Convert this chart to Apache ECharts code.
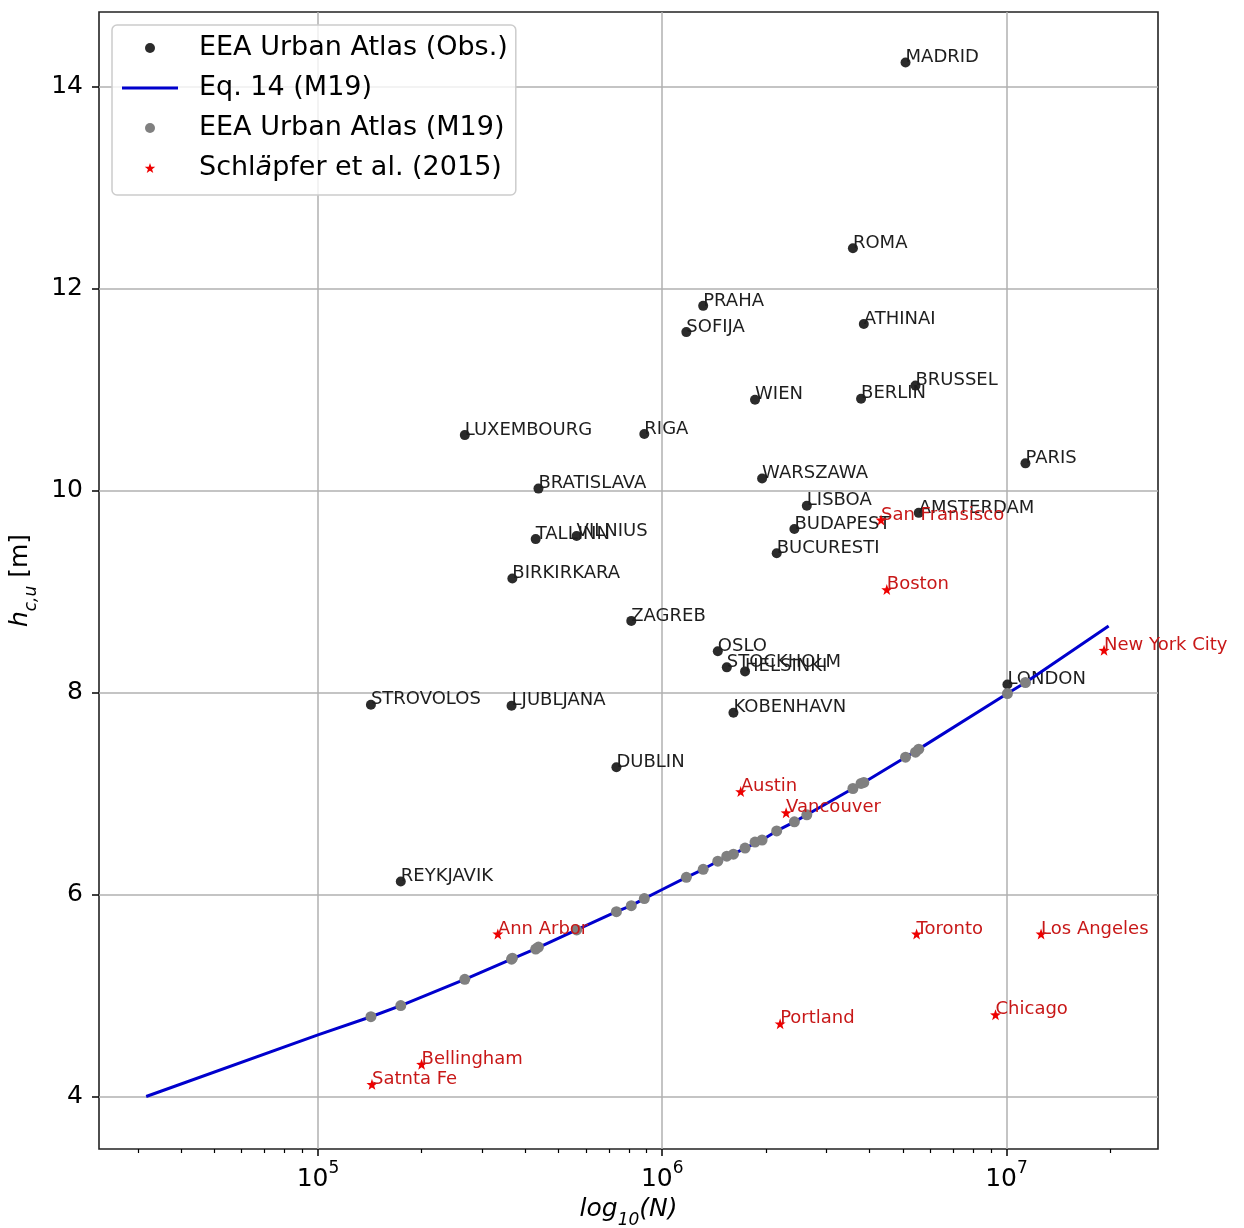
<!DOCTYPE html>
<html>
<head>
<meta charset="utf-8">
<script src="https://cdn.jsdelivr.net/npm/echarts@6/dist/echarts.min.js"></script>
<style>
  html, body { margin: 0; padding: 0; background: #fff; }
  #chart { width: 1244px; height: 1228px; }
</style>
</head>
<body>
<div id="chart"></div>
<script>
// EEA Urban Atlas cities: population N, observed h_c,u and M19 estimate
const cityNames = ['MADRID', 'ROMA', 'PRAHA', 'SOFIJA', 'ATHINAI', 'BRUSSEL', 'WIEN', 'BERLIN',
  'LUXEMBOURG', 'RIGA', 'PARIS', 'WARSZAWA', 'BRATISLAVA', 'LISBOA', 'AMSTERDAM', 'BUDAPEST',
  'TALLINN', 'VILNIUS', 'BUCURESTI', 'BIRKIRKARA', 'ZAGREB', 'OSLO', 'STOCKHOLM', 'HELSINKI',
  'LONDON', 'STROVOLOS', 'LJUBLJANA', 'KOBENHAVN', 'DUBLIN', 'REYKJAVIK']
const cityPop = [5.09e6, 3.58e6, 1.315e6, 1.175e6, 3.85e6, 5.44e6, 1.86e6, 3.78e6,
  2.67e5, 8.87e5, 1.135e7, 1.95e6, 4.37e5, 2.63e6, 5.56e6, 2.42e6,
  4.29e5, 5.64e5, 2.15e6, 3.67e5, 8.13e5, 1.45e6, 1.54e6, 1.74e6,
  1.006e7, 1.425e5, 3.65e5, 1.61e6, 7.36e5, 1.74e5]
const cityObs = [14.24, 12.40, 11.83, 11.57, 11.65, 11.04, 10.90, 10.91,
  10.55, 10.56, 10.27, 10.12, 10.02, 9.85, 9.78, 9.62,
  9.52, 9.55, 9.38, 9.13, 8.71, 8.41, 8.25, 8.21,
  8.08, 7.88, 7.87, 7.80, 7.26, 6.13]
const cityM19 = [7.36, 7.05, 6.25, 6.17, 7.11, 7.41, 6.52, 7.10,
  5.16, 5.96, 8.10, 6.54, 5.48, 6.79, 7.44, 6.72,
  5.46, 5.65, 6.63, 5.37, 5.89, 6.33, 6.38, 6.46,
  7.99, 4.79, 5.36, 6.40, 5.83, 4.90]

// Schläpfer et al. (2015)
const usNames = ['San Fransisco', 'Boston', 'New York City', 'Austin', 'Vancouver', 'Ann Arbor',
  'Toronto', 'Los Angeles', 'Portland', 'Chicago', 'Bellingham', 'Satnta Fe']
const usPop = [4.32e6, 4.49e6, 1.92e7, 1.69e6, 2.29e6, 3.33e5,
  5.48e6, 1.26e7, 2.20e6, 9.29e6, 2.0e5, 1.435e5]
const usH = [9.71, 9.02, 8.42, 7.02, 6.81, 5.61,
  5.61, 5.61, 4.72, 4.81, 4.32, 4.12]

// Eq. 14 (M19) curve
const curvePop = [3.17e4, 1e5, 1.425e5, 1.74e5, 2.67e5, 3.65e5, 4.33e5, 5.64e5, 7.36e5, 8.13e5,
  8.87e5, 1.0e6, 1.175e6, 1.315e6, 1.45e6, 1.61e6, 1.74e6, 1.95e6, 2.15e6, 2.42e6, 2.63e6,
  3.58e6, 3.85e6, 5.09e6, 5.56e6, 1.006e7, 1.135e7, 1.98e7]
const curveH = [4.00, 4.61, 4.79, 4.90, 5.16, 5.36, 5.47, 5.65, 5.83, 5.89,
  5.96, 6.05, 6.17, 6.25, 6.33, 6.40, 6.46, 6.54, 6.63, 6.72, 6.79,
  7.05, 7.11, 7.36, 7.44, 7.99, 8.10, 8.66]

const xTickExp = [5, 6, 7]
const yTicks = [4, 6, 8, 10, 12, 14]
const minorDecades = [4, 5, 6, 7]
const minorMult = [2, 3, 4, 5, 6, 7, 8, 9]

const xMin = 4.364
const xMax = 7.44
const yMin = 3.48
const yMax = 14.74

const font = 'DejaVu Sans'
const starPath = 'path://M0,-10L2.35,-3.24L9.51,-3.09L3.8,1.24L5.88,8.09L0,4L-5.88,8.09L-3.8,1.24L-9.51,-3.09L-2.35,-3.24Z'
const lineIcon = 'path://M0,0L56,0L56,3L0,3Z'

const minorTicks = []
minorDecades.forEach(e => {
  minorMult.forEach(m => {
    const v = e + Math.log10(m)
    if (v > xMin && v < xMax) minorTicks.push(v)
  })
})

const pointLabel = (color) => ({
  show: true,
  formatter: '{b}',
  position: ['50%', '50%'],
  align: 'left',
  verticalAlign: 'bottom',
  offset: [0, 4],
  color: color,
  opacity: 1,
  fontFamily: font,
  fontSize: 18,
})

// axis title styles (italic math text with subscript)
const titleRich = {
  i: { fontFamily: font, fontSize: 25, fontStyle: 'italic', color: '#000', lineHeight: 32, verticalAlign: 'top' },
  sub: { fontFamily: font, fontSize: 17, fontStyle: 'italic', color: '#000', lineHeight: 20, verticalAlign: 'bottom' },
  n: { fontFamily: font, fontSize: 25, color: '#000', lineHeight: 32, verticalAlign: 'top' },
}

const obsData = cityPop.map((n, i) => ({ name: cityNames[i], value: [Math.log10(n), cityObs[i]] }))
const m19Data = cityPop.map((n, i) => [Math.log10(n), cityM19[i]])
const usData = usPop.map((n, i) => ({ name: usNames[i], value: [Math.log10(n), usH[i]] }))
const curveData = curvePop.map((n, i) => [Math.log10(n), curveH[i]])

const option = {
  animation: false,
  backgroundColor: '#fff',
  grid: {
    left: 99,
    top: 12,
    right: 86,
    bottom: 79,
    outerBoundsMode: 'none',
    containLabel: false,
    show: true,
    borderColor: '#222',
    borderWidth: 1.6,
    backgroundColor: 'transparent',
  },
  legend: {
    orient: 'vertical',
    left: 112,
    top: 25,
    padding: [8, 8, 12, 10],
    itemWidth: 56,
    itemHeight: 10,
    itemGap: 10,
    backgroundColor: 'rgba(255,255,255,0.8)',
    borderColor: '#cccccc',
    borderWidth: 1.5,
    borderRadius: 5,
    textStyle: {
      fontFamily: font,
      fontSize: 27,
      lineHeight: 30,
      color: '#000',
      padding: [0, 0, 0, 16],
      rich: {
        n: { fontFamily: font, fontSize: 27, color: '#000' },
        it: { fontFamily: font, fontSize: 27, fontStyle: 'italic', color: '#000' },
      },
    },
    formatter: (name) => name.indexOf('Schl') === 0
      ? '{n|Schl}{it|ä}{n|pfer et al. (2015)}'
      : name,
    data: [
      { name: 'EEA Urban Atlas (Obs.)', icon: 'circle' },
      { name: 'Eq. 14 (M19)', icon: lineIcon },
      { name: 'EEA Urban Atlas (M19)', icon: 'circle' },
      { name: 'Schläpfer et al. (2015)', icon: starPath },
    ],
  },
  xAxis: [
    {
      type: 'value',
      min: xMin,
      max: xMax,
      position: 'bottom',
      axisLine: { show: false },
      axisTick: {
        show: true,
        length: 7,
        customValues: xTickExp,
        lineStyle: { color: '#000', width: 1.5 },
      },
      axisLabel: {
        customValues: xTickExp,
        margin: 11,
        formatter: (v) => '{b|10}{s|' + Math.round(v) + '}',
        rich: {
          b: { fontFamily: font, fontSize: 25, color: '#000', lineHeight: 32, verticalAlign: 'bottom' },
          s: { fontFamily: font, fontSize: 17, color: '#000', lineHeight: 20, verticalAlign: 'top' },
        },
      },
      splitLine: { show: true, lineStyle: { color: '#b0b0b0', width: 1.5 } },
      name: '{i|log}{sub|10}{i|(N)}',
      nameLocation: 'middle',
      nameGap: 45,
      nameTextStyle: { rich: titleRich },
    },
    {
      type: 'value',
      min: xMin,
      max: xMax,
      position: 'bottom',
      axisLine: { show: false },
      axisLabel: { show: false },
      splitLine: { show: false },
      axisTick: {
        show: true,
        length: 4,
        customValues: minorTicks,
        lineStyle: { color: '#000', width: 1.2 },
      },
    },
  ],
  yAxis: {
    type: 'value',
    min: yMin,
    max: yMax,
    axisLine: { show: false },
    axisTick: {
      show: true,
      length: 7,
      customValues: yTicks,
      lineStyle: { color: '#000', width: 1.5 },
    },
    axisLabel: {
      customValues: yTicks,
      margin: 16,
      fontFamily: font,
      fontSize: 25,
      color: '#000',
    },
    splitLine: { show: true, lineStyle: { color: '#b0b0b0', width: 1.5 } },
    name: '{i|h}{sub|c,u}{n| [m]}',
    nameLocation: 'middle',
    nameRotate: 90,
    nameGap: 54,
    nameTextStyle: { rich: titleRich },
  },
  series: [
    {
      name: 'EEA Urban Atlas (Obs.)',
      type: 'scatter',
      symbol: 'circle',
      symbolSize: 10,
      itemStyle: { color: '#2b2b2b', opacity: 1 },
      label: pointLabel('#1e1e1e'),
      data: obsData,
      z: 3,
    },
    {
      name: 'Eq. 14 (M19)',
      type: 'line',
      symbol: 'none',
      showSymbol: false,
      smooth: false,
      lineStyle: { color: '#0000cd', width: 3 },
      itemStyle: { color: '#0000cd' },
      data: curveData,
      z: 4,
    },
    {
      name: 'EEA Urban Atlas (M19)',
      type: 'scatter',
      symbol: 'circle',
      symbolSize: 11,
      itemStyle: { color: '#808080', opacity: 1 },
      data: m19Data,
      z: 5,
    },
    {
      name: 'Schläpfer et al. (2015)',
      type: 'scatter',
      symbol: starPath,
      symbolSize: 11,
      itemStyle: { color: '#ee0000', opacity: 1 },
      label: pointLabel('#c81818'),
      data: usData,
      z: 6,
    },
  ],
}

const chart = echarts.init(document.getElementById('chart'))
chart.setOption(option)
</script>
</body>
</html>
